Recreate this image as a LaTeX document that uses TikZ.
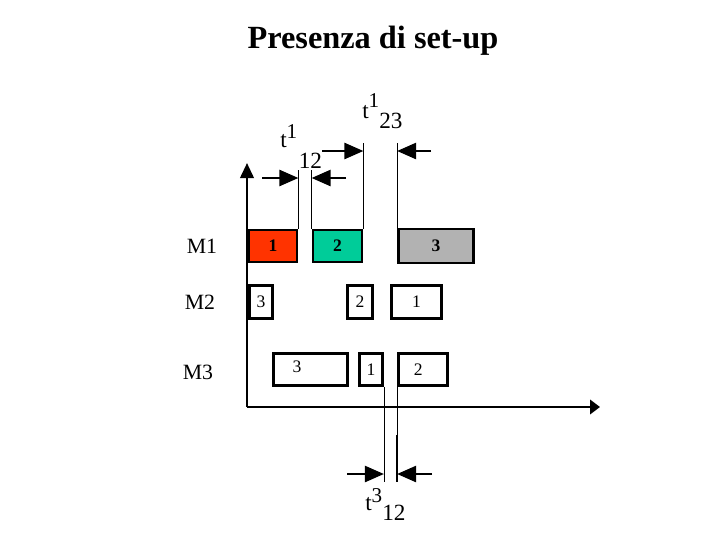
\documentclass[tikz,border=0pt]{standalone}
\usepackage{fontspec}
\setmainfont{Liberation Serif}
\usetikzlibrary{arrows.meta}
\definecolor{job-red}{HTML}{FF3300}
\definecolor{job-green}{HTML}{00CC99}
\definecolor{job-gray}{HTML}{B2B2B2}
\newcommand{\setuptime}[4]{t\raisebox{#3}{\fontsize{15}{15}\selectfont #1}\raisebox{#4}{#2}}

\begin{document}
\begin{tikzpicture}[x=0.025cm, y=-0.025cm,
    job/.style={draw, line width=2.1pt, inner sep=0pt, font=\fontsize{12.5}{13}\selectfont},
    guide/.style={line width=0.6pt},
    axis/.style={line width=1.8pt},
    setarrow/.style={-{Triangle[length=0.48cm, width=0.4cm]}, line width=2pt},
    timelabel/.style={anchor=base west, inner sep=0pt, font=\fontsize{16.5}{18}\selectfont},
    every node/.style={font=\fontsize{15.5}{18}\selectfont}]
  \useasboundingbox (0,0) rectangle (720,540);
  \node[anchor=base, font=\fontsize{23}{26}\selectfont\bfseries] (title) at (373,48) {Presenza di set-up};

  \coordinate (origin) at (247,407);
  \coordinate (ytip) at (247,163);
  \coordinate (xtip) at (600,407);
  \draw[axis, -{Triangle[length=0.38cm, width=0.34cm]}] (origin) -- (ytip);
  \draw[axis, -{Triangle[length=0.25cm, width=0.36cm]}] (origin) -- (xtip);

  \node (m1) at (202,246) {M1};
  \node (m2) at (200,302) {M2};
  \node (m3) at (198,372) {M3};

  \node[job, fill=job-red, minimum width=1.2cm, minimum height=0.8cm, font=\fontsize{12.5}{13}\selectfont\bfseries] (b11) at (273,246) {1};
  \node[job, fill=job-green, minimum width=1.225cm, minimum height=0.8cm, font=\fontsize{12.5}{13}\selectfont\bfseries] (b12) at (337.5,246) {2};
  \node[job, fill=job-gray, minimum width=1.875cm, minimum height=0.85cm, font=\fontsize{12.5}{13}\selectfont\bfseries] (b13) at (436,246) {3};
  \node[job, minimum width=0.575cm, minimum height=0.825cm] (b21) at (261,302) {3};
  \node[job, minimum width=0.625cm, minimum height=0.825cm] (b22) at (360,302) {2};
  \node[job, minimum width=1.25cm, minimum height=0.825cm] (b23) at (416.5,302) {1};
  \node[job, minimum width=1.85cm, minimum height=0.8cm,
    label={[xshift=-0.34cm, yshift=0.08cm, font=\fontsize{12.5}{13}\selectfont]center:3}] (b31) at (310.5,369.5) {};
  \node[job, minimum width=0.575cm, minimum height=0.8cm] (b32) at (371,369.5) {1};
  \node[job, minimum width=1.225cm, minimum height=0.8cm,
    label={[xshift=-0.12cm, font=\fontsize{12.5}{13}\selectfont]center:2}] (b33) at (423,369.5) {};

  \coordinate (lev12) at (0,170);
  \coordinate (lev23) at (0,143);
  \coordinate (lev312) at (0,482);
  \coordinate (gap312) at (0,435);
  \draw[guide] (b11.north east) -- (b11.north east |- lev12);
  \draw[guide] (b12.north west) -- (b12.north west |- lev12);
  \draw[guide] (b12.north east) -- (b12.north east |- lev23);
  \draw[guide] (b13.north west) -- (b13.north west |- lev23);
  \draw[guide] (b32.south east) -- (b32.south east |- lev312);
  \draw[guide] (b33.south west) -- (b33.south west |- lev312);
  \draw[line width=1.5pt] (b33.south west |- gap312) -- (b33.south west |- lev312);

  \coordinate (a1) at (262,178);
  \coordinate (a2) at (346,178);
  \coordinate (a3) at (322,151);
  \coordinate (a4) at (431,151);
  \coordinate (a5) at (347,474);
  \coordinate (a6) at (432,474);
  \draw[setarrow] (a1) -- (a1 -| b11.east);
  \draw[setarrow] (a2) -- (a2 -| b12.west);
  \draw[setarrow] (a3) -- (a3 -| b12.east);
  \draw[setarrow] (a4) -- (a4 -| b13.west);
  \draw[setarrow] (a5) -- (a5 -| b32.east);
  \draw[setarrow] (a6) -- (a6 -| b33.west);

  \node[timelabel] (t112) at (280,147) {\setuptime{1}{\kern0.04cm 12}{0.225cm}{-0.525cm}};
  \node[timelabel] (t123) at (362,118) {\setuptime{1}{23}{0.275cm}{-0.25cm}};
  \node[timelabel] (t312) at (365,510) {\setuptime{3}{12}{0.2cm}{-0.25cm}};
\end{tikzpicture}
\end{document}
